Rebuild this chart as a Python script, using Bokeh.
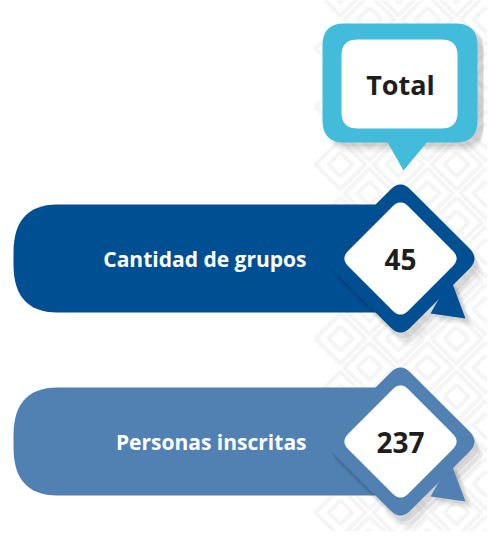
import numpy as np
from bokeh.plotting import figure
from bokeh.models import Range1d
from bokeh.core.properties import value
from bokeh.embed import file_html
from bokeh.resources import INLINE

# ---- data ----
title_label = "Total"
categories = ["Cantidad de grupos", "Personas inscritas"]
values = [45, 237]
bar_colors = ["#004F93", "#5181B3"]
accent = "#42BCDA"
text_dark = "#1E1E1E"
FONT = "Open Sans"

W, H = 487, 531
p = figure(width=W, height=H, x_range=Range1d(0, W), y_range=Range1d(H, 0),
           output_backend="svg", toolbar_location=None, min_border=0)
p.axis.visible = False
p.grid.visible = False
p.outline_line_color = None
p.background_fill_color = "white"
p.border_fill_color = "white"


def rounded(verts, rads, n=10):
    """Polygon with rounded corners (quadratic Bezier per corner)."""
    verts = [np.array(v, float) for v in verts]
    k = len(verts)
    xs, ys = [], []
    for i in range(k):
        V = verts[i]
        P = verts[i - 1]
        N = verts[(i + 1) % k]
        r = rads[i]
        if np.isscalar(r):
            r = (r, r)
        if r[0] == 0 and r[1] == 0:
            xs.append(V[0]); ys.append(V[1]); continue
        u1 = (P - V) / np.linalg.norm(P - V)
        u2 = (N - V) / np.linalg.norm(N - V)
        T1 = V + u1 * r[0]
        T2 = V + u2 * r[1]
        for t in np.linspace(0, 1, n):
            B = (1 - t) ** 2 * T1 + 2 * (1 - t) * t * V + t ** 2 * T2
            xs.append(B[0]); ys.append(B[1])
    return xs, ys


def diamond(cx, cy, h, r):
    return rounded([(cx, cy - h), (cx + h, cy), (cx, cy + h), (cx - h, cy)], [r] * 4)


# ---- background lattice of nested diamonds (decoration) ----
lx, ly = [], []
cell = 58
for j, gy in enumerate(np.arange(-10, 560, cell / 2)):
    off = (cell / 2) if j % 2 else 0
    for gx in np.arange(340 + off, 530, cell):
        for hh in (25, 12):
            lx.append([gx, gx + hh, gx, gx - hh, gx])
            ly.append([gy - hh, gy, gy + hh, gy, gy - hh])
p.multi_line(lx, ly, line_color="#F5F5F5", line_width=4)

# ---- "Total" callout ----
bx0, bx1, by0, by1 = 322, 477, 23, 142
sx, sy = rounded([(bx0, by0), (bx1, by0), (bx1, by1), (bx0, by1)], [22] * 4)
for k, a in [(10, 0.04), (7, 0.06), (4, 0.08)]:
    p.patch([x + 6 for x in sx], [y + k for y in sy], fill_color="black", fill_alpha=a, line_color=None)
p.patch(sx, sy, fill_color=accent, line_color=None)
p.patch([386, 428, 403], [140, 140, 170], fill_color=accent, line_color=None)
ix, iy = rounded([(341, 39), (457, 39), (457, 128), (341, 128)], [16] * 4)
p.patch(ix, iy, fill_color="white", line_color=None)
p.text([400], [84], text=[title_label], text_font=value(FONT), text_font_style="bold",
       text_font_size="27px", text_color=text_dark, text_align="center", text_baseline="middle")

# ---- rows ----
row_cy = [258, 441]
for cat, val, col, cy in zip(categories, values, bar_colors, row_cy):
    top, bot = cy - 54, cy + 54
    bxs, bys = rounded([(13, top), (400, top), (400, bot), (13, bot)], [(48, 44), 0, 0, (44, 48)], n=16)
    p.patch(bxs, bys, fill_color=col, line_color=None)

    cx = 400
    dx, dy = diamond(cx, cy, 79, 14)
    tail_x = [cx + 50, cx + 65, cx + 30]
    tail_y = [cy + 20, cy + 60, cy + 55]
    for k, a in [(14, 0.035), (10, 0.05), (6, 0.07)]:
        p.patch([x + k * 0.6 for x in dx], [y + k for y in dy], fill_color="black", fill_alpha=a, line_color=None)
        p.patch([x + k * 0.6 for x in tail_x], [y + k * 0.6 for y in tail_y], fill_color="black", fill_alpha=a, line_color=None)
    p.patch(dx, dy, fill_color=col, line_color=None)
    p.patch(tail_x, tail_y, fill_color=col, line_color=None)
    wx, wy = diamond(cx, cy, 60, 11)
    p.patch(wx, wy, fill_color="white", line_color=None)

    p.text([306], [cy], text=[cat], text_font=value(FONT), text_font_style="bold",
           text_font_size="21px", text_color="white", text_align="right", text_baseline="middle")
    p.text([cx], [cy + 1], text=[str(val)], text_font=value(FONT), text_font_style="bold",
           text_font_size="28px", text_color=text_dark, text_align="center", text_baseline="middle")

open("out.html", "w").write(file_html(p, INLINE))
